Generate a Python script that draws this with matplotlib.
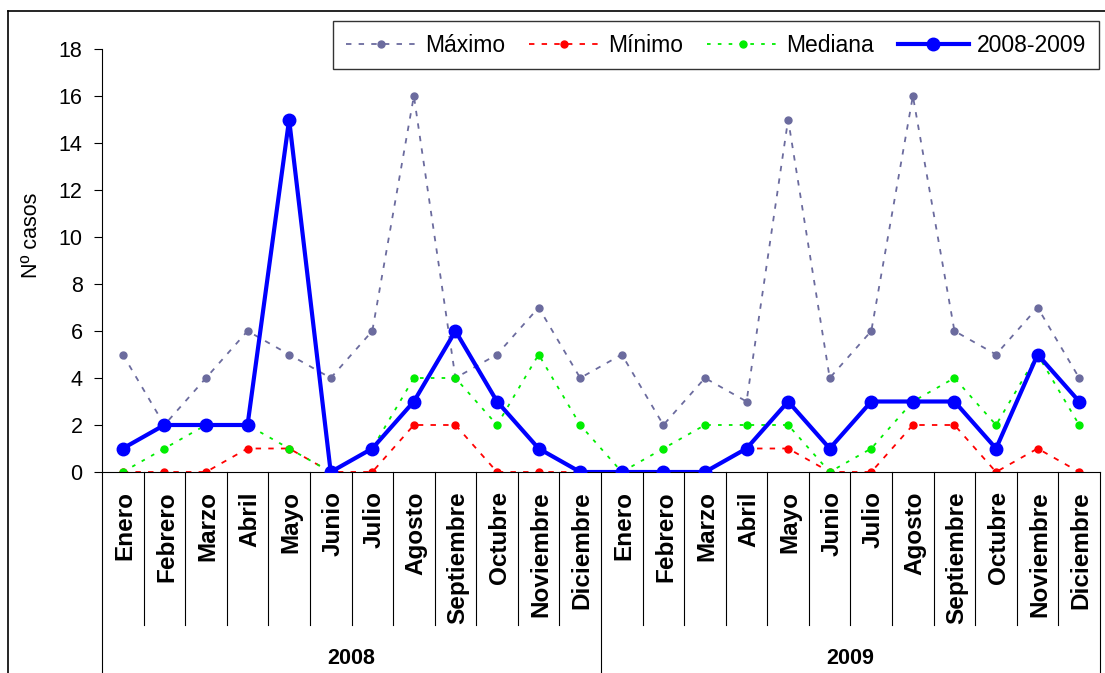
import matplotlib
matplotlib.use("Agg")
import matplotlib.pyplot as plt
from matplotlib.lines import Line2D

plt.rcParams['font.family'] = ['Liberation Sans', 'DejaVu Sans']

meses = ["Enero", "Febrero", "Marzo", "Abril", "Mayo", "Junio", "Julio",
         "Agosto", "Septiembre", "Octubre", "Noviembre", "Diciembre"]
anios = ["2008", "2009"]

maximo = [5, 2, 4, 6, 5, 4, 6, 16, 4, 5, 7, 4,
          5, 2, 4, 3, 15, 4, 6, 16, 6, 5, 7, 4]
minimo = [0, 0, 0, 1, 1, 0, 0, 2, 2, 0, 0, 0,
          0, 0, 0, 1, 1, 0, 0, 2, 2, 0, 1, 0]
mediana = [0, 1, 2, 2, 1, 0, 1, 4, 4, 2, 5, 2,
           0, 1, 2, 2, 2, 0, 1, 3, 4, 2, 5, 2]
casos = [1, 2, 2, 2, 15, 0, 1, 3, 6, 3, 1, 0,
         0, 0, 0, 1, 3, 1, 3, 3, 3, 1, 5, 3]

W, H = 1105, 673
fig = plt.figure(figsize=(W / 100, H / 100), dpi=100)
ax = fig.add_axes([102 / W, (H - 472) / H, (1100 - 102) / W, 423 / H])

x = list(range(len(casos)))
ax.plot(x, maximo, color="#6B6B9E", ls=(0, (3, 4)), lw=1.3, marker="o",
        ms=5, label="Máximo")
ax.plot(x, minimo, color="#FF0000", ls=(0, (3, 4)), lw=1.3, marker="o",
        ms=5, label="Mínimo")
ax.plot(x, mediana, color="#00EE00", ls=(0, (2, 4)), lw=1.3, marker="o",
        ms=5, label="Mediana")
ax.plot(x, casos, color="#0000FF", lw=3, marker="o", ms=9,
        label="2008-2009", zorder=5)

ax.set_xlim(-0.5, len(casos) - 0.5)
ax.set_ylim(0, 18)
ax.set_yticks(range(0, 19, 2))
ax.tick_params(axis="y", direction="out", length=6, labelsize=15.5, pad=8)
ax.set_xticks([])
ax.spines["top"].set_visible(False)
ax.spines["right"].set_visible(False)
ax.set_ylabel("Nº casos", fontsize=15.5)
ax.yaxis.set_label_coords(-0.06, 0.56)

# category table under the axis
tr = ax.get_xaxis_transform()
y_cat = (472 - 625) / 423
y_bot = (472 - 680) / 423
for i in range(len(casos) + 1):
    edge = i - 0.5
    if i % 12 == 0:
        ax.plot([edge, edge], [0, y_bot], color="black", lw=0.8,
                transform=tr, clip_on=False)
    else:
        ax.plot([edge, edge], [0, y_cat], color="black", lw=0.8,
                transform=tr, clip_on=False)
for i in x:
    ax.text(i + 0.05, -0.045, meses[i % 12], transform=tr, rotation=90,
            ha="center", va="top", fontsize=17.5, fontweight="bold")
for j, a in enumerate(anios):
    ax.text(j * 12 + 5.5, (472 - 658) / 423, a, transform=tr,
            ha="center", va="center", fontsize=15.5, fontweight="bold")

leg = fig.legend(loc="upper right", bbox_to_anchor=(1099 / W, (H - 21) / H),
                 borderaxespad=0, ncol=4, fontsize=16.5, frameon=True,
                 fancybox=False, edgecolor="black", handlelength=3.1,
                 columnspacing=1.05, borderpad=0.55, handletextpad=0.35)
leg.get_frame().set_linewidth(1.0)

# outer chart border
fig.add_artist(Line2D([8 / W, 8 / W], [0, (H - 11) / H], color="black", lw=1.2))
fig.add_artist(Line2D([8 / W, 1], [(H - 11) / H, (H - 11) / H], color="black", lw=1.2))

fig.savefig("out.png", dpi=100)
